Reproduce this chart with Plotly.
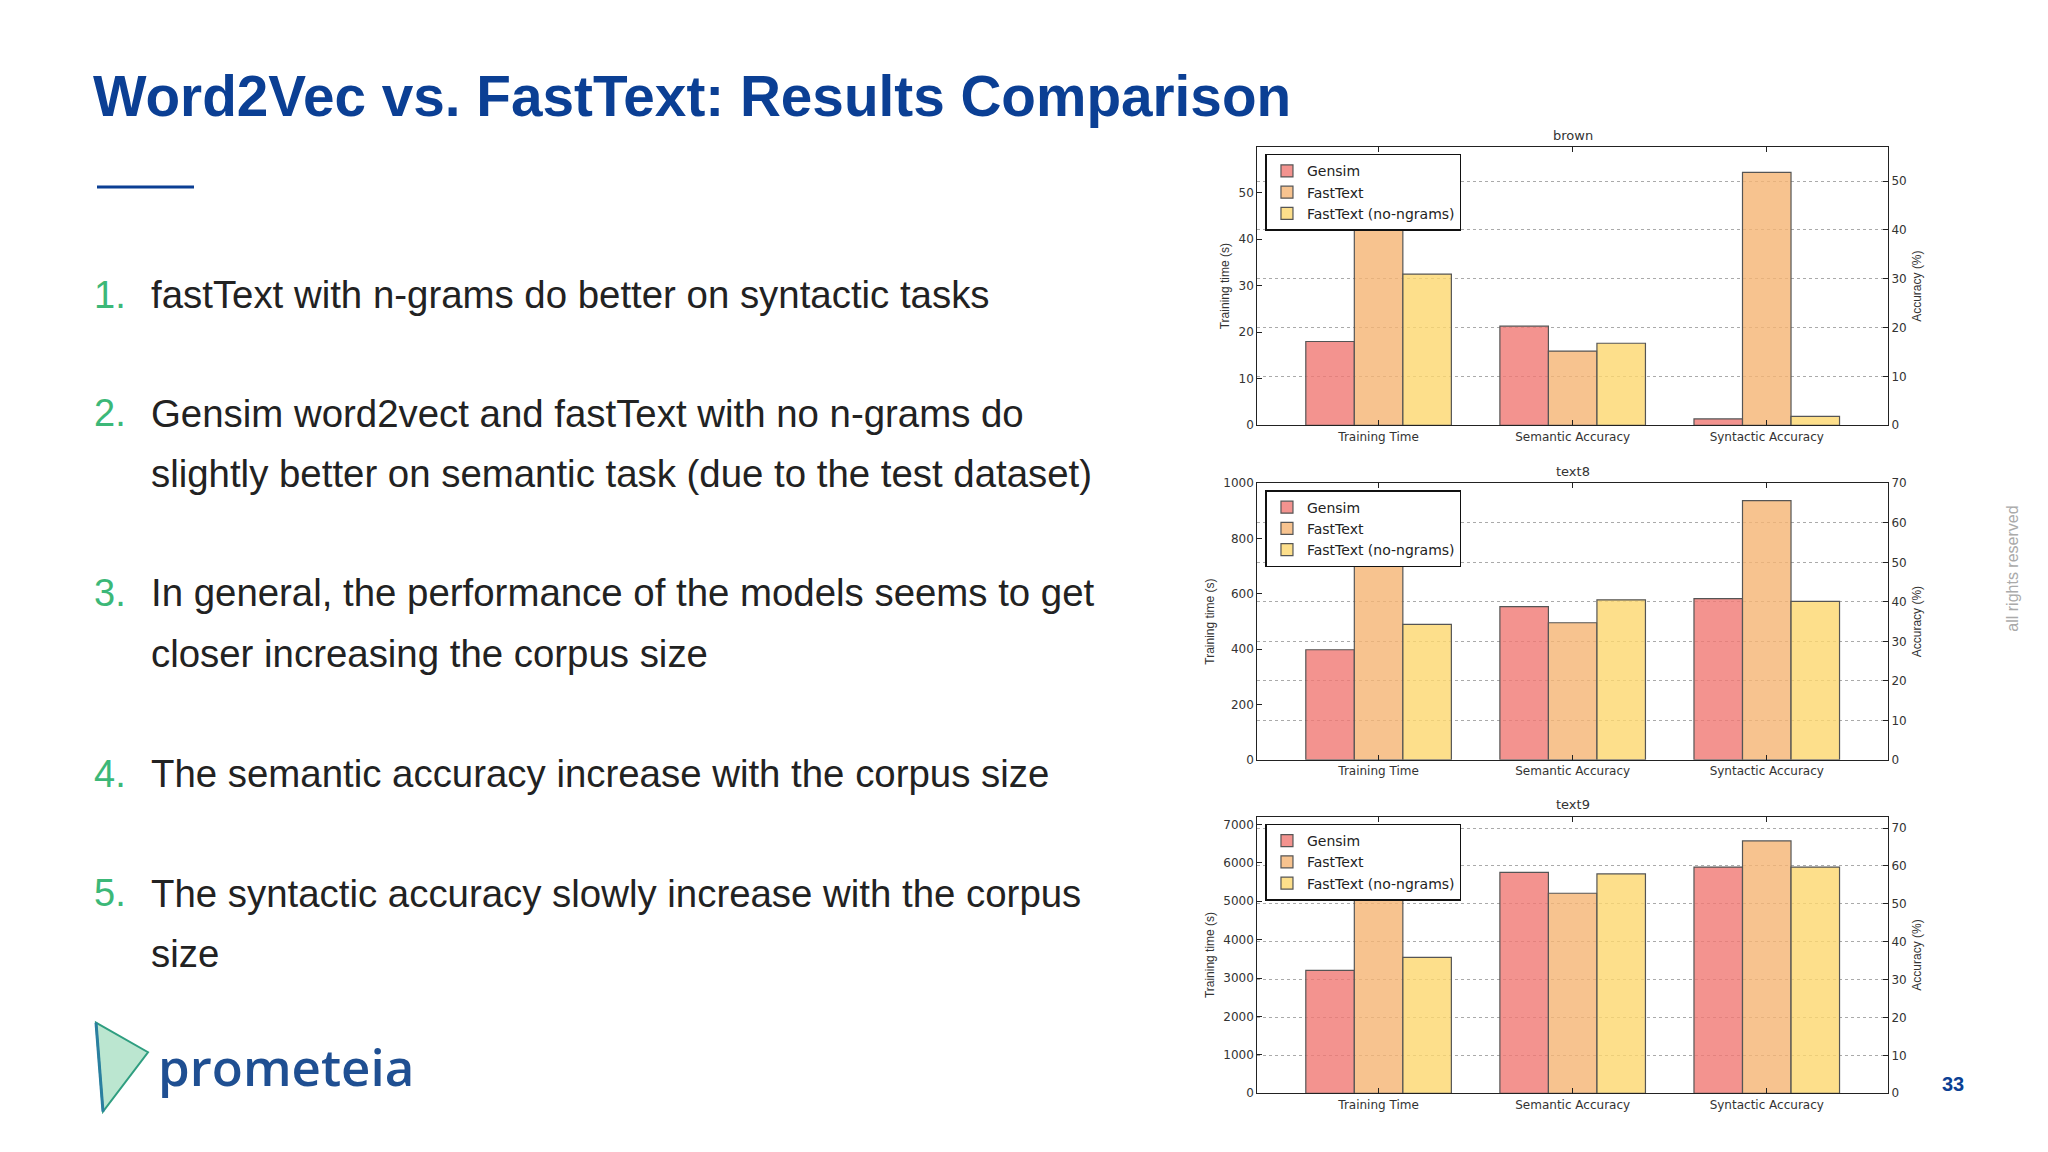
import plotly.graph_objects as go

# dati
corpora = ["brown", "text8", "text9"]
series = ["Gensim", "FastText", "FastText (no-ngrams)"]
train_cat = ["Training Time"]
acc_cats = ["Semantic Accuracy", "Syntactic Accuracy"]

train_brown = [18, 48, 32.5]
train_text8 = [398, 900, 490]
train_text9 = [3200, 6500, 3540]

sem_brown = [20.3, 15.2, 16.8]
syn_brown = [1.3, 51.8, 1.8]
sem_text8 = [38.8, 34.7, 40.5]
syn_text8 = [40.8, 65.6, 40.1]
sem_text9 = [58.3, 52.8, 57.9]
syn_text9 = [59.7, 66.6, 59.7]

bullets = [
    ["fastText with n-grams do better on syntactic tasks"],
    ["Gensim word2vect and fastText with no n-grams do",
     "slightly better on semantic task (due to the test dataset)"],
    ["In general, the performance of the models seems to get",
     "closer increasing the corpus size"],
    ["The semantic accuracy increase with the corpus size"],
    ["The syntactic accuracy slowly increase with the corpus", "size"],
]

colors = ["rgba(240,120,115,0.8)", "rgba(245,180,115,0.8)", "rgba(253,215,110,0.8)"]

train = [train_brown, train_text8, train_text9]
sem = [sem_brown, sem_text8, sem_text9]
syn = [syn_brown, syn_text8, syn_text9]
left_rng = [[0, 59.8], [0, 1000], [0, 7200]]
left_dt = [10, 200, 1000]
right_rng = [[0, 57], [0, 70], [0, 73]]
domains = [[0.6395, 0.884], [0.3455, 0.5885], [0.0525, 0.2955]]
xdom = [0.610, 0.918]

fig = go.Figure()
layout = {}
for k in range(3):
    xa = "x" if k == 0 else f"x{k+1}"
    ya = f"y{2*k+1}" if k else "y"
    yb = f"y{2*k+2}"
    lg = "legend" if k == 0 else f"legend{k+1}"
    for i, s in enumerate(series):
        fig.add_trace(go.Bar(x=train_cat, y=[train[k][i]], name=s, xaxis=xa, yaxis=ya,
                             marker=dict(color=colors[i], line=dict(color="#555", width=1.2)),
                             offsetgroup=str(i), legend=lg, showlegend=True))
        fig.add_trace(go.Bar(x=acc_cats, y=[sem[k][i], syn[k][i]], name=s, xaxis=xa, yaxis=yb,
                             marker=dict(color=colors[i], line=dict(color="#555", width=1.2)),
                             offsetgroup=str(i), legend=lg, showlegend=False))
    xname = "xaxis" if k == 0 else f"xaxis{k+1}"
    yname = "yaxis" if k == 0 else f"yaxis{2*k+1}"
    yname2 = f"yaxis{2*k+2}"
    d = domains[k]
    layout[xname] = dict(domain=xdom, anchor=ya, type="category",
                         categoryorder="array", categoryarray=train_cat + acc_cats,
                         range=[-0.625, 2.625], showline=True, linecolor="#222", mirror="ticks",
                         ticks="inside", ticklen=5, tickcolor="#222",
                         tickfont=dict(size=12, color="#333", family="DejaVu Sans"))
    layout[yname] = dict(domain=d, anchor=xa, range=left_rng[k], dtick=left_dt[k],
                         showgrid=False, zeroline=False, showline=True, linecolor="#222",
                         ticks="inside", ticklen=5, tickcolor="#222",
                         tickfont=dict(size=12, color="#333", family="DejaVu Sans"),
                         title=dict(text="Training time (s)", font=dict(size=12, color="#333"), standoff=6))
    layout[yname2] = dict(overlaying=ya, anchor=xa, side="right", range=right_rng[k], dtick=10,
                          showgrid=True, gridcolor="#aaa", griddash="dot", zeroline=False,
                          showline=True, linecolor="#222", ticks="inside", ticklen=5, tickcolor="#222",
                          tickfont=dict(size=12, color="#333", family="DejaVu Sans"),
                          title=dict(text="Accuracy (%)", font=dict(size=12, color="#333"), standoff=6))
    layout[lg] = dict(x=xdom[0] + 0.004, y=d[1] - 0.006, xref="paper", yref="paper",
                      xanchor="left", yanchor="top",
                      bgcolor="white", bordercolor="#111", borderwidth=1.5,
                      font=dict(size=14, color="#222", family="DejaVu Sans"), tracegroupgap=0,
                      itemwidth=30)

fig.update_layout(**layout)
fig.update_layout(barmode="group", bargap=0.25, bargroupgap=0, width=2048, height=1152,
                  margin=dict(l=0, r=0, t=0, b=0), plot_bgcolor="white", paper_bgcolor="white",
                  font=dict(family="Liberation Sans"))


def px(x, y):
    return x / 2048, 1 - y / 1152


ann = []
for k, c in enumerate(corpora):
    ann.append(dict(text=c, x=(xdom[0] + xdom[1]) / 2, y=domains[k][1] + 0.002, xref="paper",
                    yref="paper", xanchor="center", yanchor="bottom", showarrow=False,
                    font=dict(size=13, color="#333", family="DejaVu Sans")))

tx, ty = px(83, 83)
ann.append(dict(text="<b>Word2Vec vs. FastText: Results Comparison</b>", x=tx, y=ty, xref="paper",
                yref="paper", xanchor="left", yanchor="middle", showarrow=False,
                font=dict(size=56.7, color="#0b3f94", family="Liberation Sans")))
lines_y = [[283], [403, 464], [585, 646], [768], [889, 950]]
for n, (b, ys) in enumerate(zip(bullets, lines_y)):
    nx, ny = px(84, ys[0])
    ann.append(dict(text=f"{n+1}.", x=nx, y=ny, xref="paper", yref="paper", xanchor="left",
                    yanchor="middle", showarrow=False, font=dict(size=38, color="#3cb878")))
    for t, yy in zip(b, ys):
        bx, by = px(141, yy)
        ann.append(dict(text=t, x=bx, y=by, xref="paper", yref="paper", xanchor="left",
                        yanchor="middle", showarrow=False, font=dict(size=38.4, color="#222")))
lx, ly = px(148, 1064)
ann.append(dict(text="prometeia", x=lx, y=ly, xref="paper", yref="paper", xanchor="left",
                yanchor="middle", showarrow=False,
                font=dict(size=51, color="#1f4f92", family="Open Sans", weight=600)))
px_, py_ = px(1958, 1095)
ann.append(dict(text="<b>33</b>", x=px_, y=py_, xref="paper", yref="paper", showarrow=False,
                font=dict(size=20, color="#0b3f94")))
rx, ry = px(2015, 561)
ann.append(dict(text="all rights reserved", x=rx, y=ry, xref="paper", yref="paper", showarrow=False,
                textangle=-90, font=dict(size=16, color="#aaa")))
fig.update_layout(annotations=ann)

ux0, uy = px(89, 174)
ux1, _ = px(186, 174)
fig.add_shape(type="line", x0=ux0, x1=ux1, y0=uy, y1=uy, xref="paper", yref="paper",
              line=dict(color="#0b3f94", width=3))

# logo stilizzato
a0, a1 = px(88, 1020)
b0, b1 = px(140, 1050)
c0, c1 = px(95, 1110)
fig.add_shape(type="path", path=f"M {a0},{a1} L {b0},{b1} L {c0},{c1} Z", xref="paper", yref="paper",
              fillcolor="rgba(60,184,120,0.35)", line=dict(color="#2f9e80", width=2))
fig.add_shape(type="line", x0=a0, y0=a1, x1=c0, y1=c1, xref="paper", yref="paper",
              line=dict(color="#2a7fa0", width=3))

fig.write_html("out.html")
